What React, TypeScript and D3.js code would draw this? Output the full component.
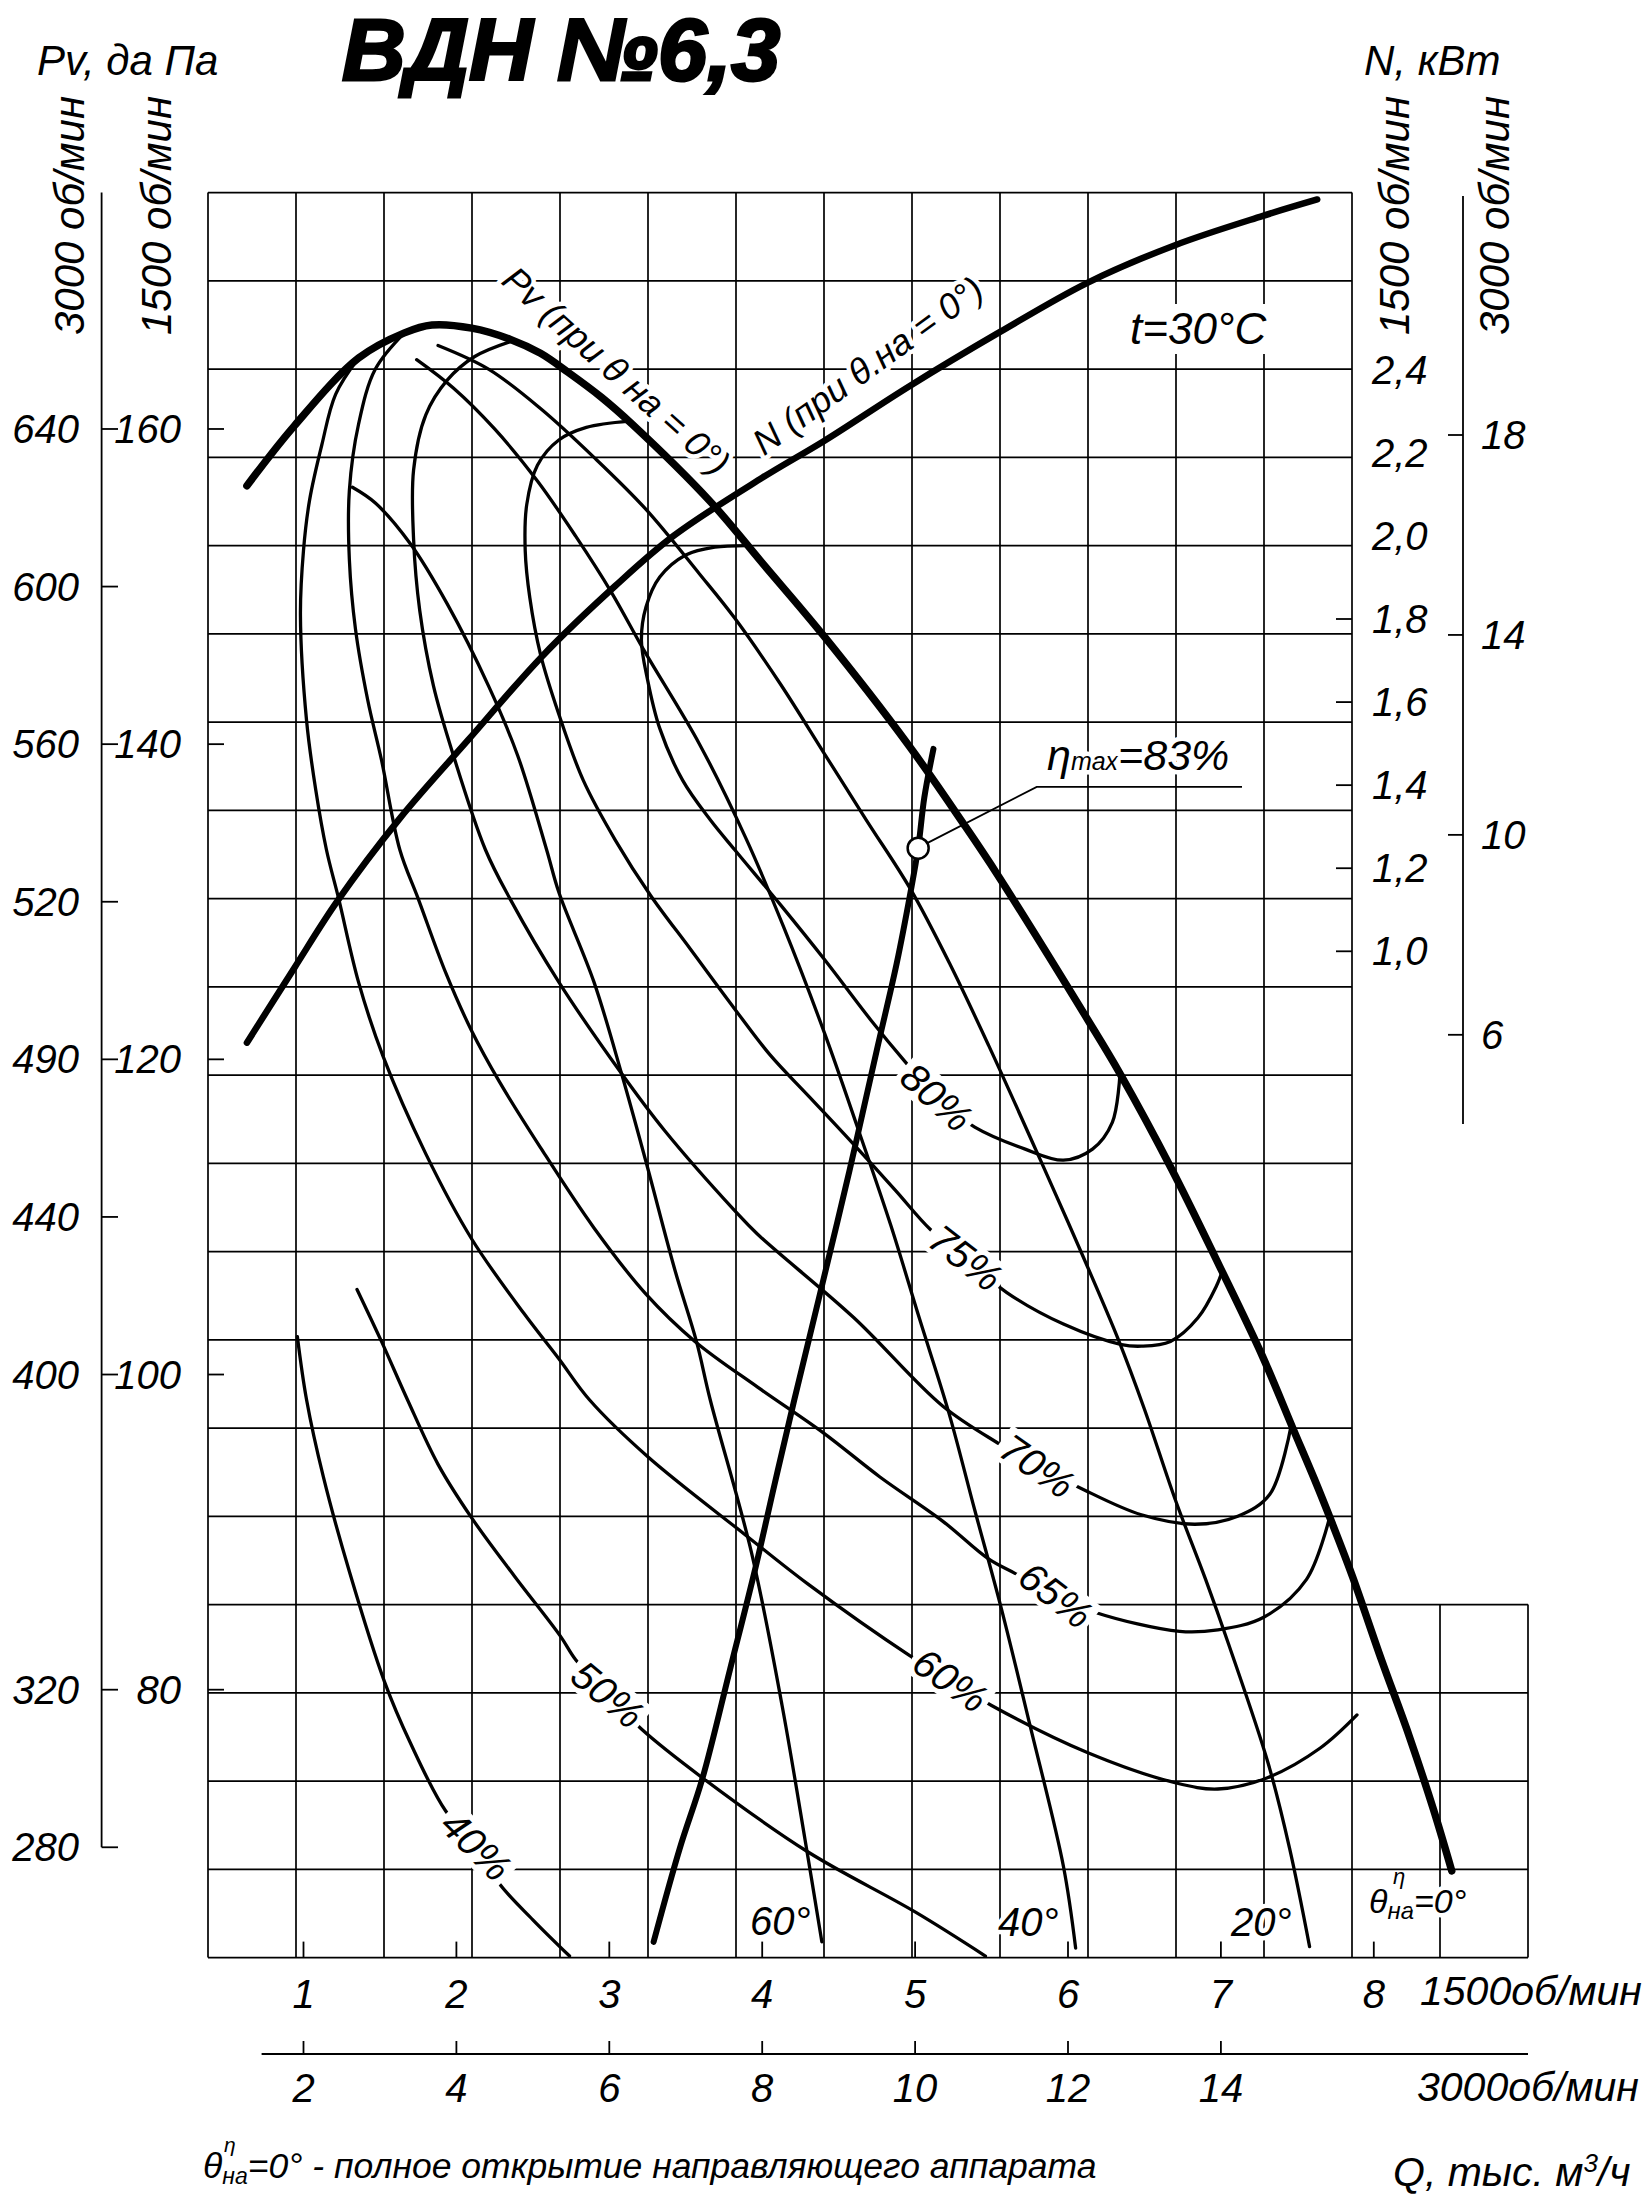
import React from "react";
import * as d3 from "d3";

// ВДН №6,3 - aerodynamic characteristic
// Q in thousand m3/h at 1500 rpm, Pv in daPa at 1500 rpm, N in kW at 1500 rpm

const Q_TICKS_1500 = [1, 2, 3, 4, 5, 6, 7, 8];
const Q_TICKS_3000 = [2, 4, 6, 8, 10, 12, 14];
const P_TICKS_1500 = [160, 140, 120, 100, 80];
const P_TICKS_3000 = [640, 600, 560, 520, 480, 440, 400, 320, 280];
const P_LABELS_3000 = ["640", "600", "560", "520", "490", "440", "400", "320", "280"];
const N_TICKS_1500 = [2.4, 2.2, 2.0, 1.8, 1.6, 1.4, 1.2, 1.0];
const N_TICKS_3000 = [18, 14, 10, 6];

// Pv at θ=0
const PV0_Q = [0.63, 0.94, 1.36, 1.66, 1.84, 2.1, 2.35, 2.55, 2.73, 2.95, 3.15, 3.66, 4.0, 4.4, 4.96, 5.32, 5.54, 6.13, 6.34, 6.68, 6.99, 7.27, 7.47, 7.61, 7.73, 7.86, 8.05, 8.23, 8.39, 8.51];
const PV0_P = [156.4, 160.2, 164.5, 166.1, 166.6, 166.4, 165.7, 164.8, 163.6, 162.0, 160.3, 155.4, 151.5, 146.9, 139.9, 134.9, 131.7, 122.5, 119.1, 113.0, 106.9, 101.2, 96.6, 93.4, 90.5, 87.2, 81.9, 77.1, 72.4, 68.5];

// N at θ=0
const N0_Q = [0.63, 0.94, 1.22, 1.63, 2.08, 2.56, 3.04, 3.42, 4.0, 4.41, 4.96, 5.55, 6.13, 6.7, 7.27, 7.63];
const N0_N = [0.78, 0.96, 1.12, 1.32, 1.51, 1.71, 1.88, 2.0, 2.14, 2.23, 2.36, 2.49, 2.61, 2.7, 2.77, 2.81];

// line of max efficiency
const EMAX_Q = [3.29, 3.46, 3.61, 3.79, 3.96, 4.08, 4.21, 4.37, 4.57, 4.75, 4.88, 4.97, 5.02, 5.06, 5.12];
const EMAX_P = [64.0, 69.9, 74.4, 81.3, 87.9, 93.0, 98.4, 104.8, 112.9, 120.6, 126.1, 130.6, 133.4, 136.6, 139.7];
const BEP = { q: 5.02, p: 133.4 };

// efficiency curves
const E80_Q = [3.91, 3.69, 3.5, 3.33, 3.24, 3.21, 3.25, 3.33, 3.48, 3.66, 3.82, 4.12, 4.41, 4.71, 4.93, 5.14, 5.39, 5.72, 5.97, 6.16, 6.29, 6.34];
const E80_P = [152.6, 152.5, 152.0, 150.6, 148.7, 146.6, 144.1, 141.0, 137.7, 135.2, 133.3, 129.8, 126.3, 122.5, 119.9, 117.6, 115.7, 114.3, 113.6, 114.3, 116.0, 119.1];

const E75_Q = [3.13, 2.85, 2.67, 2.53, 2.46, 2.45, 2.48, 2.55, 2.67, 2.83, 3.04, 3.27, 3.53, 3.82, 4.05, 4.31, 4.57, 4.87, 5.1, 5.33, 5.6, 5.97, 6.35, 6.48, 6.67, 6.85, 6.97, 7.01];
const E75_P = [160.5, 160.1, 159.3, 157.7, 155.2, 152.3, 149.3, 145.7, 141.9, 137.7, 133.9, 130.4, 127.0, 123.2, 120.3, 117.6, 114.9, 111.7, 109.2, 107.4, 105.2, 103.2, 101.9, 101.8, 102.1, 103.6, 105.6, 106.6];

const E70_Q = [2.37, 2.12, 1.94, 1.8, 1.72, 1.72, 1.76, 1.85, 1.98, 2.19, 2.35, 2.67, 3.08, 3.36, 3.82, 3.97, 4.6, 5.18, 5.55, 5.8, 6.08, 6.48, 6.83, 7.11, 7.32, 7.46];
const E70_P = [165.6, 164.6, 163.1, 160.9, 157.4, 153.0, 148.5, 143.7, 139.3, 133.3, 130.2, 124.9, 119.1, 115.5, 110.4, 108.9, 103.6, 98.0, 95.6, 94.2, 92.8, 91.1, 90.5, 91.0, 92.4, 96.8];

const E65_Q = [1.66, 1.47, 1.36, 1.3, 1.3, 1.34, 1.42, 1.51, 1.63, 1.75, 1.93, 2.1, 2.28, 2.55, 2.9, 3.24, 3.56, 3.97, 4.4, 4.77, 5.18, 5.48, 5.65, 5.92, 6.18, 6.73, 6.98, 7.28, 7.56, 7.71];
const E65_P = [166.1, 163.8, 160.3, 156.1, 151.7, 147.3, 142.8, 139.0, 133.3, 130.2, 125.5, 121.8, 118.6, 114.4, 109.3, 105.1, 102.1, 99.2, 96.3, 93.5, 90.7, 88.3, 87.4, 86.0, 84.9, 83.7, 83.8, 84.6, 87.0, 90.9];

const E60_Q = [1.36, 1.21, 1.12, 1.04, 1.0, 0.98, 1.02, 1.08, 1.15, 1.23, 1.36, 1.52, 1.8, 2.1, 2.44, 2.67, 2.87, 3.25, 3.88, 4.3, 4.96, 5.23, 5.5, 6.13, 6.7, 6.98, 7.3, 7.65, 7.89];
const E60_P = [164.5, 162.2, 159.0, 155.5, 152.3, 148.2, 141.5, 137.1, 133.3, 130.2, 124.9, 120.2, 114.0, 108.6, 103.9, 101.0, 98.4, 94.8, 89.9, 86.7, 82.2, 80.6, 79.0, 76.0, 74.1, 73.7, 74.4, 76.3, 78.4];

const E50_Q = [1.35, 1.51, 1.68, 1.88, 2.1, 2.38, 2.68, 2.78, 2.99, 3.21, 3.61, 4.3, 5.0, 5.46];
const E50_P = [105.4, 102.1, 98.4, 94.3, 90.9, 87.2, 83.4, 81.9, 79.7, 77.5, 74.4, 69.7, 65.9, 63.1];

const E40_Q = [0.96, 1.02, 1.13, 1.3, 1.53, 1.7, 1.93, 2.13, 2.28, 2.5, 2.74];
const E40_P = [102.4, 98.4, 93.5, 87.5, 80.5, 76.6, 72.3, 70.1, 67.7, 65.4, 63.1];

// guide vane angle curves
const T60_Q = [1.32, 1.47, 1.7, 1.94, 2.21, 2.4, 2.59, 2.67, 2.9, 3.08, 3.24, 3.43, 3.57, 3.66, 3.93, 4.13, 4.28, 4.39];
const T60_P = [156.3, 155.3, 152.7, 148.9, 143.7, 139.3, 133.3, 130.6, 124.9, 119.1, 113.5, 106.6, 102.1, 98.4, 88.7, 79.0, 70.5, 64.0];

const T40_Q = [1.74, 1.98, 2.25, 2.53, 2.78, 3.01, 3.23, 3.59, 3.89, 4.14, 4.41, 4.63, 4.84, 5.03, 5.22, 5.39, 5.56, 5.75, 5.97, 6.05];
const T40_P = [164.4, 162.6, 160.0, 156.7, 153.2, 149.7, 145.9, 140.0, 134.1, 128.4, 121.6, 115.5, 109.5, 103.5, 97.6, 91.4, 85.3, 77.8, 68.8, 63.6];

const T20_Q = [1.88, 2.21, 2.55, 2.9, 3.24, 3.59, 3.82, 4.12, 4.4, 4.68, 4.97, 5.23, 5.48, 5.82, 6.08, 6.33, 6.5, 6.7, 6.9, 7.05, 7.31, 7.45, 7.58];
const T20_P = [165.3, 163.8, 161.3, 158.2, 154.9, 150.8, 148.0, 143.8, 139.5, 135.2, 130.8, 126.0, 120.9, 113.6, 107.9, 102.2, 97.8, 92.1, 87.0, 82.9, 75.3, 69.9, 63.7];

// efficiency labels on the curves
const ETA_LABELS = [
  { t: "80%", q: 5.14, p: 117.6, a: 42 },
  { t: "75%", q: 5.33, p: 107.4, a: 38 },
  { t: "70%", q: 5.8, p: 94.2, a: 35 },
  { t: "65%", q: 5.92, p: 86.0, a: 38 },
  { t: "60%", q: 5.23, p: 80.6, a: 35 },
  { t: "50%", q: 2.99, p: 79.7, a: 40 },
  { t: "40%", q: 2.13, p: 70.1, a: 45 },
];

const FONT = "'Liberation Sans', Arimo, Arial, sans-serif";

const zip = (a: number[], b: number[]): [number, number][] => a.map((v, i) => [v, b[i]]);
const comma = (v: number) => v.toFixed(1).replace(".", ",");

export default function App() {
  const W = 1650;
  const H = 2195;

  const x = d3.scaleLinear().domain([0, 8]).range([150.6, 1373.8]);
  const x3 = d3.scaleLinear().domain([0, 16]).range([150.6, 1373.8]);
  const y = d3.scaleLinear().domain([175, 63]).range([192.6, 1957.6]);
  const y3 = d3.scaleLinear().domain([700, 252]).range([192.6, 1957.6]);
  const yN = d3.scaleLinear().domain([1.0, 1.8]).range([951.3, 619]);
  const yN3 = d3.scaleLinear().domain([18, 6]).range([435, 1034.8]);

  const lineP = d3
    .line<[number, number]>()
    .x((d) => x(d[0]))
    .y((d) => y(d[1]))
    .curve(d3.curveCatmullRom.alpha(0.5));
  const lineN = d3
    .line<[number, number]>()
    .x((d) => x(d[0]))
    .y((d) => yN(d[1]))
    .curve(d3.curveCatmullRom.alpha(0.5));

  // grid
  const gx0 = 208;
  const cell = 88;
  const top = y(175);
  const bottom = y(63);
  const rowH = (bottom - top) / 20;
  const vLines = d3.range(0, 16);
  const hLines = d3.range(0, 21);

  const thin = [
    zip(E80_Q, E80_P), zip(E75_Q, E75_P), zip(E70_Q, E70_P), zip(E65_Q, E65_P),
    zip(E60_Q, E60_P), zip(E50_Q, E50_P), zip(E40_Q, E40_P),
    zip(T60_Q, T60_P), zip(T40_Q, T40_P), zip(T20_Q, T20_P),
  ];

  const txt = { fontFamily: FONT, fontStyle: "italic" as const, fill: "#000" };
  const halo = { stroke: "#fff", strokeWidth: 9, paintOrder: "stroke" as const, strokeLinejoin: "round" as const };

  const bx = x(BEP.q);
  const by = y(BEP.p);

  return (
    <svg width={W} height={H} style={{ position: "absolute", left: 0, top: 0, background: "#fff" }}>
      <rect width={W} height={H} fill="#fff" />

      {/* grid */}
      <g stroke="#000" strokeWidth={1.7}>
        {vLines.map((i) => (
          <line key={"v" + i} x1={gx0 + i * cell} x2={gx0 + i * cell} y1={i > 13 ? top + 16 * rowH : top} y2={bottom} />
        ))}
        {hLines.map((j) => (
          <line key={"h" + j} x1={gx0} x2={gx0 + (j >= 16 ? 15 : 13) * cell} y1={top + j * rowH} y2={top + j * rowH} />
        ))}
      </g>

      {/* left axes */}
      <g stroke="#000" strokeWidth={1.8}>
        <line x1={101.6} x2={101.6} y1={top} y2={y3(280)} />
        {P_TICKS_3000.map((v) => (
          <line key={"lt" + v} x1={101.6} x2={118} y1={y3(v)} y2={y3(v)} />
        ))}
        {P_TICKS_1500.map((v) => (
          <line key={"gt" + v} x1={gx0} x2={gx0 + 16} y1={y(v)} y2={y(v)} />
        ))}
      </g>
      {P_TICKS_3000.map((v, i) => (
        <text key={"l3" + v} x={79} y={y3(v) + 14} textAnchor="end" fontSize={40} {...txt}>
          {P_LABELS_3000[i]}
        </text>
      ))}
      {P_TICKS_1500.map((v) => (
        <text key={"l1" + v} x={181} y={y(v) + 14} textAnchor="end" fontSize={40} {...txt}>
          {v}
        </text>
      ))}

      {/* right axes */}
      <g stroke="#000" strokeWidth={1.8}>
        {N_TICKS_1500.filter((v) => v < 1.9).map((v) => (
          <line key={"rt" + v} x1={1336} x2={gx0 + 13 * cell} y1={yN(v)} y2={yN(v)} />
        ))}
        <line x1={1463} x2={1463} y1={196} y2={1124} />
        {N_TICKS_3000.map((v) => (
          <line key={"rt3" + v} x1={1448} x2={1463} y1={yN3(v)} y2={yN3(v)} />
        ))}
      </g>
      {N_TICKS_1500.map((v) => (
        <text key={"rn" + v} x={1372} y={yN(v) + 14} fontSize={40} {...txt}>
          {comma(v)}
        </text>
      ))}
      {N_TICKS_3000.map((v) => (
        <text key={"rn3" + v} x={1481} y={yN3(v) + 14} fontSize={40} {...txt}>
          {v}
        </text>
      ))}

      {/* bottom axes */}
      <g stroke="#000" strokeWidth={1.8}>
        {Q_TICKS_1500.map((v) => (
          <line key={"bt" + v} x1={x(v)} x2={x(v)} y1={bottom - 16} y2={bottom} />
        ))}
        <line x1={261.6} x2={gx0 + 15 * cell} y1={2054} y2={2054} />
        {Q_TICKS_3000.map((v) => (
          <line key={"bt3" + v} x1={x3(v)} x2={x3(v)} y1={2041} y2={2054} />
        ))}
      </g>
      {Q_TICKS_1500.map((v) => (
        <text key={"bq" + v} x={x(v)} y={2008} textAnchor="middle" fontSize={40} {...txt}>
          {v}
        </text>
      ))}
      {Q_TICKS_3000.map((v) => (
        <text key={"bq3" + v} x={x3(v)} y={2102} textAnchor="middle" fontSize={40} {...txt}>
          {v}
        </text>
      ))}

      {/* curve labels (drawn under the curves so halos never cut them) */}
      <text
        transform="translate(616,371) rotate(42)"
        textAnchor="middle"
        y={12}
        fontSize={36}
        {...txt}
        {...halo}
      >
        Pv (при θ на = 0°)
      </text>
      <text
        transform="translate(868,366) rotate(-36)"
        textAnchor="middle"
        y={12}
        fontSize={36}
        {...txt}
        {...halo}
      >
        N (при θ.на = 0°)
      </text>

      {/* curves */}
      <g fill="none" stroke="#000" strokeLinecap="round" strokeLinejoin="round">
        {thin.map((c, i) => (
          <path key={"c" + i} d={lineP(c) || ""} strokeWidth={3.3} />
        ))}
        <path d={lineP(zip(PV0_Q, PV0_P)) || ""} strokeWidth={7.5} />
        <path d={lineN(zip(N0_Q, N0_N)) || ""} strokeWidth={6.5} />
        <path d={lineP(zip(EMAX_Q, EMAX_P)) || ""} strokeWidth={6} />
      </g>

      {/* efficiency labels */}
      {ETA_LABELS.map((l) => (
        <g key={l.t} transform={`translate(${x(l.q)},${y(l.p)}) rotate(${l.a})`}>
          <rect x={-44} y={-19} width={88} height={38} fill="#fff" />
          <text x={0} y={14} textAnchor="middle" fontSize={40} {...txt}>
            {l.t}
          </text>
        </g>
      ))}

      {/* η max point */}
      <polyline
        points={`${bx + 9},${by - 5} 1036.7,786.9 1242,786.9`}
        fill="none"
        stroke="#000"
        strokeWidth={1.8}
      />
      <circle cx={bx} cy={by} r={10.5} fill="#fff" stroke="#000" strokeWidth={2.5} />
      <text x={1047} y={770} fontSize={43} {...txt} {...halo}>
        η<tspan fontSize={25}>max</tspan>=83%
      </text>

      <rect x={1124} y={304} width={146} height={50} fill="#fff" />
      <text x={1130} y={344} fontSize={44} {...txt}>
        t=30°C
      </text>

      <text x={750} y={1935} fontSize={40} {...txt} {...halo}>60°</text>
      <text x={998} y={1936} fontSize={40} {...txt} {...halo}>40°</text>
      <text x={1231} y={1936} fontSize={40} {...txt} {...halo}>20°</text>
      <text x={1369} y={1913} fontSize={34} {...txt} {...halo}>
        θ<tspan fontSize={24} dy={6}>на</tspan>
        <tspan dy={-6}>=0°</tspan>
      </text>
      <text x={1393} y={1884} fontSize={22} {...txt}>η</text>

      {/* axis titles */}
      <text x={342} y={80} fontSize={88} fontWeight={700} fontFamily={FONT} fontStyle="italic" stroke="#000" strokeWidth={3}>
        ВДН №6,3
      </text>
      <text x={37} y={75} fontSize={42} {...txt}>Pv, да Па</text>
      <text x={1364} y={75} fontSize={42} {...txt}>N, кВт</text>

      <text transform="translate(84,335) rotate(-90)" fontSize={42} {...txt}>3000 об/мин</text>
      <text transform="translate(171,335) rotate(-90)" fontSize={42} {...txt}>1500 об/мин</text>
      <text transform="translate(1409,335) rotate(-90)" fontSize={42} {...txt}>1500 об/мин</text>
      <text transform="translate(1509,335) rotate(-90)" fontSize={42} {...txt}>3000 об/мин</text>

      <text x={1420} y={2005} fontSize={41} {...txt}>1500об/мин</text>
      <text x={1417} y={2101} fontSize={41} {...txt}>3000об/мин</text>
      <text x={1393} y={2186} fontSize={41} {...txt}>
        Q, тыс. м<tspan fontSize={26} dy={-14}>3</tspan>
        <tspan dy={14}>/ч</tspan>
      </text>

      <text x={203} y={2178} fontSize={35.5} {...txt}>
        θ<tspan fontSize={23} dy={6}>на</tspan>
        <tspan dy={-6}>=0° - полное открытие направляющего аппарата</tspan>
      </text>
      <text x={224} y={2152} fontSize={21} {...txt}>η</text>
    </svg>
  );
}
